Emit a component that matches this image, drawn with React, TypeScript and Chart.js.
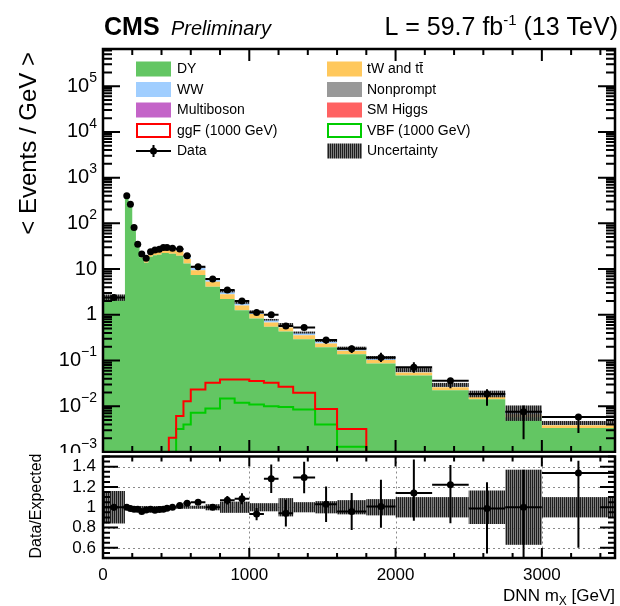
import { useEffect, useRef } from "react";
import { Chart, registerables } from "chart.js";

Chart.register(...registerables);

// Bin edges of the DNN m_X distribution (GeV)
const binEdges = [0, 150, 175, 200, 225, 250, 280, 310, 340, 370, 400, 425, 450, 500, 550, 600, 700, 800, 900, 1000, 1100, 1200, 1300, 1450, 1600, 1800, 2000, 2250, 2500, 2750, 3000, 3500];

// Observed events / GeV
const dataValues = [2.4, 400, 263, 81, 35, 21.5, 17.3, 24, 26.3, 27.2, 29.5, 29.5, 28.6, 27.6, 19.5, 11.3, 6.1, 3.5, 2.0, 1.12, 1.0, 0.57, 0.53, 0.28, 0.18, 0.117, 0.071, 0.036, 0.0186, 0.0076, 0.0058];
const dataErrUpRel = [0.03, 0.008, 0.01, 0.015, 0.02, 0.025, 0.025, 0.02, 0.02, 0.02, 0.02, 0.02, 0.015, 0.018, 0.02, 0.02, 0.025, 0.04, 0.05, 0.065, 0.11, 0.14, 0.12, 0.17, 0.19, 0.26, 0.29, 0.16, 0.26, 0.37, 0.09];
const dataErrDownRel = [0.03, 0.008, 0.01, 0.015, 0.02, 0.025, 0.025, 0.02, 0.02, 0.02, 0.02, 0.02, 0.015, 0.018, 0.02, 0.02, 0.025, 0.04, 0.05, 0.065, 0.11, 0.14, 0.12, 0.17, 0.19, 0.21, 0.24, 0.31, 0.45, 0.75, 0.55];

// Expected backgrounds, events / GeV (stacked bottom to top)
const dyValues = [2.29, 392, 255.6, 75.0, 30.5, 17.9, 13.7, 18.6, 20.1, 20.6, 22.6, 22.4, 21.6, 19.6, 13.3, 7.42, 4.12, 2.23, 1.26, 0.833, 0.549, 0.432, 0.294, 0.196, 0.137, 0.0863, 0.0470, 0.0223, 0.0143, 0.00577, 0.00333];
const topValues = [0.06, 3, 5, 4.5, 3.5, 3.2, 3.0, 4.3, 5.2, 5.3, 5.5, 5.4, 5.0, 5.0, 3.5, 2.0, 1.15, 0.6, 0.34, 0.21, 0.13, 0.095, 0.062, 0.04, 0.026, 0.016, 0.008, 0.0037, 0.0023, 0.0009, 0.0005];
const wwValues = [0.03, 1.5, 2.5, 2.0, 1.2, 1.0, 0.8, 1.2, 1.4, 1.5, 1.6, 1.6, 1.6, 2.2, 1.7, 1.2, 0.75, 0.4, 0.22, 0.14, 0.09, 0.07, 0.048, 0.032, 0.022, 0.012, 0.0063, 0.003, 0.0019, 0.0008, 0.00043];
const multibosonValues = [0.01, 2.0, 1.6, 0.6, 0.25, 0.15, 0.12, 0.16, 0.18, 0.18, 0.2, 0.2, 0.19, 0.18, 0.13, 0.08, 0.045, 0.025, 0.015, 0.01, 0.0065, 0.005, 0.0035, 0.0024, 0.0017, 0.0011, 0.0006, 0.0003, 0.0002, 0.00008, 0.00005];
const nonpromptValues = [0.01, 1.2, 1.0, 0.4, 0.2, 0.14, 0.12, 0.15, 0.16, 0.16, 0.16, 0.15, 0.14, 0.12, 0.09, 0.05, 0.03, 0.016, 0.009, 0.006, 0.004, 0.003, 0.002, 0.0013, 0.0009, 0.0005, 0.0003, 0.00015, 0.0001, 0.00004, 0.00002];
const higgsValues = [0.002, 0.3, 0.3, 0.15, 0.08, 0.05, 0.04, 0.05, 0.05, 0.05, 0.05, 0.04, 0.04, 0.035, 0.025, 0.014, 0.008, 0.004, 0.002, 0.0014, 0.0009, 0.0007, 0.0005, 0.0003, 0.0002, 0.0001, 0.00006, 0.00003, 0.00002, 0.00001, 0.000005];

// Relative total uncertainty on the expectation
const systRel = [0.16, 0.012, 0.012, 0.012, 0.012, 0.012, 0.012, 0.012, 0.012, 0.012, 0.012, 0.012, 0.012, 0.015, 0.015, 0.015, 0.03, 0.055, 0.055, 0.04, 0.04, 0.09, 0.05, 0.06, 0.07, 0.08, 0.10, 0.10, 0.165, 0.37, 0.10];

// Signal hypotheses, m_X = 1000 GeV (null: empty bin)
const ggfValues = [null, null, null, null, null, null, null, null, null, null, null, null, 0.00205, 0.0061, 0.0129, 0.0233, 0.0327, 0.0386, 0.0386, 0.0355, 0.0327, 0.0267, 0.0197, 0.0087, 0.0032, null, null, null, null, null, null];
const vbfValues = [null, null, null, null, null, null, null, null, null, null, null, null, null, 0.0032, 0.004, 0.0072, 0.0089, 0.0147, 0.0119, 0.011, 0.0100, 0.0097, 0.0085, 0.0040, 0.0013, null, null, null, null, null, null];

const xTickLabels = [0, 1000, 2000, 3000];
const yDecades = [-3, -2, -1, 0, 1, 2, 3, 4, 5];
const ratioTickLabels = [0.6, 0.8, 1, 1.2, 1.4];

const X_MIN = 0;
const X_MAX = 3500;
const Y_MIN = 1e-3;
const Y_MAX = 6.5e5;
const R_MIN = 0.5;
const R_MAX = 1.5;

const COLORS = {
  dy: "#63c663",
  top: "#ffc85c",
  ww: "#a0ceff",
  multiboson: "#c464c8",
  nonprompt: "#999999",
  higgs: "#ff6262",
  ggf: "#ff0000",
  vbf: "#00cc00",
};

const FONT = '"Liberation Sans", Arial, Helvetica, sans-serif';

const nBins = binEdges.length - 1;
const centers = binEdges.slice(0, -1).map((lo, i) => (lo + binEdges[i + 1]) / 2);

const stackComponents = [
  { label: "DY", values: dyValues, color: COLORS.dy },
  { label: "tW and tt\u0304", values: topValues, color: COLORS.top },
  { label: "WW", values: wwValues, color: COLORS.ww },
  { label: "Multiboson", values: multibosonValues, color: COLORS.multiboson },
  { label: "Nonprompt", values: nonpromptValues, color: COLORS.nonprompt },
  { label: "SM Higgs", values: higgsValues, color: COLORS.higgs },
];

const cumulative: number[][] = [];
stackComponents.forEach((c, k) => {
  cumulative.push(c.values.map((v, i) => v + (k > 0 ? cumulative[k - 1][i] : 0)));
});
const totals = cumulative[cumulative.length - 1];
const ratioValues = dataValues.map((d, i) => d / totals[i]);

// Histogram outline as step points (last edge closes the final bin)
function stepPoints(values: (number | null)[], floor = 1e-6) {
  const pts = values.map((v, i) => ({ x: binEdges[i], y: v ?? floor }));
  pts.push({ x: binEdges[nBins], y: values[nBins - 1] ?? floor });
  return pts;
}

// Vertical-stripe fill for the uncertainty band
function makeHatch(): CanvasPattern | string {
  const c = document.createElement("canvas");
  c.width = 2;
  c.height = 2;
  const g = c.getContext("2d");
  if (!g) return "#555";
  g.fillStyle = "#1e1e1e";
  g.fillRect(0, 0, 1, 2);
  g.fillStyle = "rgba(95,95,95,0.8)";
  g.fillRect(1, 0, 1, 2);
  return g.createPattern(c, "repeat") ?? "#555";
}

type Part = { text: string; font: string; dy?: number };
function drawRich(ctx: CanvasRenderingContext2D, parts: Part[], x: number, y: number, align: "left" | "right" | "center") {
  const widths = parts.map((p) => {
    ctx.font = p.font;
    return ctx.measureText(p.text).width;
  });
  const total = widths.reduce((a, b) => a + b, 0);
  let cx = align === "right" ? x - total : align === "center" ? x - total / 2 : x;
  ctx.textAlign = "left";
  parts.forEach((p, i) => {
    ctx.font = p.font;
    ctx.fillText(p.text, cx, y + (p.dy ?? 0));
    cx += widths[i];
  });
}

function drawFrame(ctx: CanvasRenderingContext2D, a: { left: number; top: number; right: number; bottom: number }) {
  ctx.strokeStyle = "#000";
  ctx.lineWidth = 2.5;
  ctx.strokeRect(a.left, a.top, a.right - a.left, a.bottom - a.top);
}

function drawXTicks(chart: any, major: number, minor: number) {
  const { ctx, chartArea: a, scales } = chart;
  ctx.strokeStyle = "#000";
  ctx.lineWidth = 2;
  ctx.beginPath();
  for (let v = X_MIN; v <= X_MAX; v += 200) {
    const px = scales.x.getPixelForValue(v);
    const len = v % 1000 === 0 ? major : minor;
    ctx.moveTo(px, a.bottom);
    ctx.lineTo(px, a.bottom - len);
    ctx.moveTo(px, a.top);
    ctx.lineTo(px, a.top + len);
  }
  ctx.stroke();
}

function makeMainPlugin(hatch: CanvasPattern | string) {
  return {
    id: "mainDecor",
    beforeDatasetDraw(chart: any, args: any) {
      if (args.index !== 0) return;
      const { ctx, chartArea: a, scales } = chart;
      const { x, y } = scales;
      ctx.save();
      ctx.beginPath();
      ctx.rect(a.left, a.top, a.right - a.left, a.bottom - a.top);
      ctx.clip();
      // expectation uncertainty
      ctx.fillStyle = hatch;
      for (let i = 0; i < nBins; i++) {
        const x0 = x.getPixelForValue(binEdges[i]);
        const x1 = x.getPixelForValue(binEdges[i + 1]);
        const yt = y.getPixelForValue(totals[i] * (1 + systRel[i]));
        const yb = y.getPixelForValue(totals[i] * (1 - systRel[i]));
        ctx.fillRect(x0, yt, x1 - x0, yb - yt);
      }
      // data error bars
      ctx.strokeStyle = "#000";
      ctx.lineWidth = 2;
      ctx.beginPath();
      for (let i = 0; i < nBins; i++) {
        const x0 = x.getPixelForValue(binEdges[i]);
        const x1 = x.getPixelForValue(binEdges[i + 1]);
        const xc = x.getPixelForValue(centers[i]);
        const yc = y.getPixelForValue(dataValues[i]);
        ctx.moveTo(x0, yc);
        ctx.lineTo(x1, yc);
        ctx.moveTo(xc, y.getPixelForValue(dataValues[i] * (1 + dataErrUpRel[i])));
        ctx.lineTo(xc, y.getPixelForValue(dataValues[i] * (1 - dataErrDownRel[i])));
      }
      ctx.stroke();
      ctx.restore();
    },
    afterDraw(chart: any) {
      const { ctx, chartArea: a, scales } = chart;
      const { y } = scales;
      ctx.save();
      drawFrame(ctx, a);
      drawXTicks(chart, 12, 6);
      // log y ticks, left and right
      ctx.lineWidth = 2;
      ctx.beginPath();
      for (let d = -3; d <= 5; d++) {
        for (let k = 1; k <= 9; k++) {
          const v = k * Math.pow(10, d);
          if (v < Y_MIN || v > Y_MAX) continue;
          const py = y.getPixelForValue(v);
          const len = k === 1 ? 17 : 9;
          ctx.moveTo(a.left, py);
          ctx.lineTo(a.left + len, py);
          ctx.moveTo(a.right, py);
          ctx.lineTo(a.right - len, py);
        }
      }
      ctx.stroke();

      // y tick labels
      ctx.fillStyle = "#000";
      ctx.textBaseline = "middle";
      const base = `20px ${FONT}`;
      const sup = `14px ${FONT}`;
      yDecades.forEach((d) => {
        const py = y.getPixelForValue(Math.pow(10, d));
        let parts: Part[];
        if (d === 0) parts = [{ text: "1", font: base }];
        else if (d === 1) parts = [{ text: "10", font: base }];
        else parts = [{ text: "10", font: base }, { text: d < 0 ? `\u2212${-d}` : `${d}`, font: sup, dy: -8 }];
        drawRich(ctx, parts, 97, py, "right");
      });

      // y axis title
      ctx.save();
      ctx.translate(29, 52);
      ctx.rotate(-Math.PI / 2);
      ctx.font = `24px ${FONT}`;
      ctx.textAlign = "right";
      ctx.textBaseline = "middle";
      ctx.fillText("< Events / GeV >", 0, 0);
      ctx.restore();

      // header
      ctx.textBaseline = "alphabetic";
      ctx.textAlign = "left";
      ctx.font = `bold 25px ${FONT}`;
      ctx.fillText("CMS", 104, 35);
      ctx.font = `italic 20px ${FONT}`;
      ctx.fillText("Preliminary", 171, 35);
      drawRich(
        ctx,
        [
          { text: "L = 59.7 fb", font: `25px ${FONT}` },
          { text: "-1", font: `15px ${FONT}`, dy: -10 },
          { text: " (13 TeV)", font: `25px ${FONT}` },
        ],
        618,
        35,
        "right"
      );

      // legend
      const rows = [69, 89.5, 110, 130.5, 151];
      const cols = [{ sx: 136, tx: 177 }, { sx: 327, tx: 367 }];
      const sw = 35;
      const sh = 15;
      type Entry = { label: string; kind: "fill" | "line" | "data" | "hatch"; color?: string };
      const entries: Entry[] = [
        { label: "DY", kind: "fill", color: COLORS.dy },
        { label: "tW and tt\u0304", kind: "fill", color: COLORS.top },
        { label: "WW", kind: "fill", color: COLORS.ww },
        { label: "Nonprompt", kind: "fill", color: COLORS.nonprompt },
        { label: "Multiboson", kind: "fill", color: COLORS.multiboson },
        { label: "SM Higgs", kind: "fill", color: COLORS.higgs },
        { label: "ggF (1000 GeV)", kind: "line", color: COLORS.ggf },
        { label: "VBF (1000 GeV)", kind: "line", color: COLORS.vbf },
        { label: "Data", kind: "data" },
        { label: "Uncertainty", kind: "hatch" },
      ];
      entries.forEach((e, idx) => {
        const row = rows[Math.floor(idx / 2)];
        const col = cols[idx % 2];
        const top = row - sh / 2;
        if (e.kind === "fill") {
          ctx.fillStyle = e.color!;
          ctx.fillRect(col.sx, top, sw, sh);
        } else if (e.kind === "line") {
          ctx.fillStyle = "#fff";
          ctx.fillRect(col.sx, top, sw, sh);
          ctx.strokeStyle = e.color!;
          ctx.lineWidth = 2;
          ctx.strokeRect(col.sx + 1, top + 1, sw - 2, sh - 2);
        } else if (e.kind === "hatch") {
          ctx.fillStyle = hatch;
          ctx.fillRect(col.sx, top, sw, sh);
        } else {
          ctx.strokeStyle = "#000";
          ctx.lineWidth = 2;
          ctx.beginPath();
          ctx.moveTo(col.sx, row);
          ctx.lineTo(col.sx + sw, row);
          ctx.moveTo(col.sx + sw / 2, row - 6);
          ctx.lineTo(col.sx + sw / 2, row + 6);
          ctx.stroke();
          ctx.fillStyle = "#000";
          ctx.beginPath();
          ctx.arc(col.sx + sw / 2, row, 3.5, 0, Math.PI * 2);
          ctx.fill();
        }
        ctx.fillStyle = "#000";
        ctx.font = `14px ${FONT}`;
        ctx.textAlign = "left";
        ctx.textBaseline = "middle";
        ctx.fillText(e.label, col.tx, row + 0.5);
      });
      ctx.restore();
    },
  };
}

function makeRatioPlugin(hatch: CanvasPattern | string) {
  return {
    id: "ratioDecor",
    beforeDraw(chart: any) {
      const { ctx, width, height } = chart;
      ctx.save();
      ctx.fillStyle = "#fff";
      ctx.fillRect(0, 0, width, height);
      ctx.restore();
    },
    beforeDatasetsDraw(chart: any) {
      const { ctx, chartArea: a, scales } = chart;
      const { x, y } = scales;
      ctx.save();
      ctx.beginPath();
      ctx.rect(a.left, a.top, a.right - a.left, a.bottom - a.top);
      ctx.clip();
      // dotted grid
      ctx.strokeStyle = "#8a8a8a";
      ctx.lineWidth = 1;
      ctx.setLineDash([2, 3]);
      ctx.beginPath();
      ratioTickLabels.forEach((v) => {
        const py = Math.round(y.getPixelForValue(v)) + 0.5;
        ctx.moveTo(a.left, py);
        ctx.lineTo(a.right, py);
      });
      xTickLabels.forEach((v) => {
        if (v === 0) return;
        const px = Math.round(x.getPixelForValue(v)) + 0.5;
        ctx.moveTo(px, a.top);
        ctx.lineTo(px, a.bottom);
      });
      ctx.stroke();
      ctx.setLineDash([]);
      // uncertainty band
      ctx.fillStyle = hatch;
      for (let i = 0; i < nBins; i++) {
        const x0 = x.getPixelForValue(binEdges[i]);
        const x1 = x.getPixelForValue(binEdges[i + 1]);
        const yt = y.getPixelForValue(1 + systRel[i]);
        const yb = y.getPixelForValue(1 - systRel[i]);
        ctx.fillRect(x0, yt, x1 - x0, yb - yt);
      }
      // ratio error bars
      ctx.strokeStyle = "#000";
      ctx.lineWidth = 2;
      ctx.beginPath();
      for (let i = 0; i < nBins; i++) {
        const r = ratioValues[i];
        const x0 = x.getPixelForValue(binEdges[i]);
        const x1 = x.getPixelForValue(binEdges[i + 1]);
        const xc = x.getPixelForValue(centers[i]);
        const yc = y.getPixelForValue(r);
        ctx.moveTo(x0, yc);
        ctx.lineTo(x1, yc);
        ctx.moveTo(xc, y.getPixelForValue(r * (1 + dataErrUpRel[i])));
        ctx.lineTo(xc, y.getPixelForValue(r * (1 - dataErrDownRel[i])));
      }
      ctx.stroke();
      ctx.restore();
    },
    afterDraw(chart: any) {
      const { ctx, chartArea: a, scales } = chart;
      const { x, y } = scales;
      ctx.save();
      drawFrame(ctx, a);
      drawXTicks(chart, 10, 5);
      ctx.lineWidth = 2;
      ctx.beginPath();
      for (let j = 10; j <= 30; j++) {
        const v = j * 0.05;
        const py = y.getPixelForValue(v);
        const len = j % 4 === 0 ? 15 : 7;
        ctx.moveTo(a.left, py);
        ctx.lineTo(a.left + len, py);
        ctx.moveTo(a.right, py);
        ctx.lineTo(a.right - len, py);
      }
      ctx.stroke();

      ctx.fillStyle = "#000";
      ctx.font = `17px ${FONT}`;
      ctx.textBaseline = "middle";
      ctx.textAlign = "right";
      ratioTickLabels.forEach((v) => {
        ctx.fillText(String(v), 96, y.getPixelForValue(v));
      });
      ctx.textAlign = "center";
      xTickLabels.forEach((v) => {
        ctx.fillText(String(v), x.getPixelForValue(v), 122);
      });

      ctx.textBaseline = "alphabetic";
      drawRich(
        ctx,
        [
          { text: "DNN m", font: `17px ${FONT}` },
          { text: "X", font: `12px ${FONT}`, dy: 4 },
          { text: " [GeV]", font: `17px ${FONT}` },
        ],
        615,
        148,
        "right"
      );

      ctx.save();
      ctx.translate(37, 53);
      ctx.rotate(-Math.PI / 2);
      ctx.font = `16px ${FONT}`;
      ctx.textAlign = "center";
      ctx.textBaseline = "middle";
      ctx.fillText("Data/Expected", 0, 0);
      ctx.restore();
      ctx.restore();
    },
  };
}

export default function App() {
  const mainRef = useRef<HTMLCanvasElement>(null);
  const ratioRef = useRef<HTMLCanvasElement>(null);

  useEffect(() => {
    const hatch = makeHatch();

    const stackDatasets = stackComponents.map((c, k) => ({
      label: c.label,
      data: stepPoints(cumulative[k]),
      stepped: true,
      borderWidth: 0,
      borderColor: "transparent",
      backgroundColor: c.color,
      pointRadius: 0,
      fill: k === 0 ? "start" : "-1",
    }));

    const main = new Chart(mainRef.current!, {
      type: "line",
      data: {
        datasets: [
          {
            label: "Data",
            data: centers.map((c, i) => ({ x: c, y: dataValues[i] })),
            showLine: false,
            pointRadius: 3.5,
            pointHoverRadius: 3.5,
            pointBackgroundColor: "#000",
            pointBorderWidth: 0,
            borderColor: "#000",
          },
          {
            label: "ggF (1000 GeV)",
            data: stepPoints(ggfValues),
            stepped: true,
            borderColor: COLORS.ggf,
            borderWidth: 2,
            pointRadius: 0,
            fill: false,
          },
          {
            label: "VBF (1000 GeV)",
            data: stepPoints(vbfValues),
            stepped: true,
            borderColor: COLORS.vbf,
            borderWidth: 2,
            pointRadius: 0,
            fill: false,
          },
          ...stackDatasets,
        ] as any,
      },
      options: {
        responsive: false,
        animation: false,
        devicePixelRatio: 1,
        events: [],
        layout: { padding: { left: 103, right: 5, top: 49, bottom: 4 } },
        plugins: { legend: { display: false }, tooltip: { enabled: false } },
        scales: {
          x: { type: "linear", min: X_MIN, max: X_MAX, display: false, bounds: "data" },
          y: { type: "logarithmic", min: Y_MIN, max: Y_MAX, display: false },
        },
      },
      plugins: [makeMainPlugin(hatch)],
    });

    const ratio = new Chart(ratioRef.current!, {
      type: "line",
      data: {
        datasets: [
          {
            label: "Data/Expected",
            data: centers.map((c, i) => ({ x: c, y: ratioValues[i] })),
            showLine: false,
            pointRadius: 3.5,
            pointHoverRadius: 3.5,
            pointBackgroundColor: "#000",
            pointBorderWidth: 0,
            borderColor: "#000",
          },
        ],
      },
      options: {
        responsive: false,
        animation: false,
        devicePixelRatio: 1,
        events: [],
        layout: { padding: { left: 103, right: 5, top: 1, bottom: 48 } },
        plugins: { legend: { display: false }, tooltip: { enabled: false } },
        scales: {
          x: { type: "linear", min: X_MIN, max: X_MAX, display: false, bounds: "data" },
          y: { type: "linear", min: R_MIN, max: R_MAX, display: false, bounds: "data" },
        },
      },
      plugins: [makeRatioPlugin(hatch)],
    });

    return () => {
      main.destroy();
      ratio.destroy();
    };
  }, []);

  return (
    <div style={{ position: "absolute", left: 0, top: 0, width: 620, height: 606, background: "#fff" }}>
      <canvas ref={mainRef} width={620} height={456} style={{ position: "absolute", left: 0, top: 0 }} />
      <canvas ref={ratioRef} width={620} height={153} style={{ position: "absolute", left: 0, top: 453 }} />
    </div>
  );
}
